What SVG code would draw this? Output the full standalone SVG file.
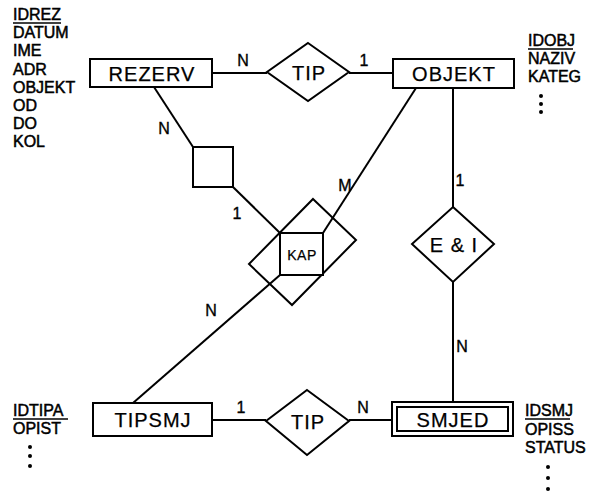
<svg xmlns="http://www.w3.org/2000/svg" width="605" height="500" viewBox="0 0 605 500">
<style>
.s{fill:none;stroke:#000;stroke-width:2}
.e{fill:#fff;stroke:#000;stroke-width:2}
.t{font-family:"Liberation Sans",Arial,sans-serif;font-size:20px;letter-spacing:1px;fill:#000;text-anchor:middle;dominant-baseline:central;stroke:#000;stroke-width:0.25}
.a{font-family:"Liberation Sans",Arial,sans-serif;font-size:16px;fill:#000;stroke:#000;stroke-width:0.5}
.l{font-family:"Liberation Sans",Arial,sans-serif;font-size:16px;fill:#000;text-anchor:middle;dominant-baseline:central;stroke:#000;stroke-width:0.35}
.u{stroke:#000;stroke-width:1.4}
.d{fill:#000}
</style>
<g id="connectors">
<line class="s" x1="212" y1="73" x2="267" y2="73"/>
<line class="s" x1="349" y1="73" x2="393" y2="73"/>
<line class="s" x1="154" y1="87" x2="193" y2="147"/>
<line class="s" x1="233" y1="187" x2="280" y2="233"/>
<line class="s" x1="416" y1="88" x2="323" y2="233"/>
<line class="s" x1="280" y1="275" x2="133" y2="403"/>
<line class="s" x1="453" y1="88" x2="453" y2="207"/>
<line class="s" x1="453" y1="282" x2="453" y2="402"/>
<line class="s" x1="212" y1="420" x2="266" y2="420"/>
<line class="s" x1="349" y1="420" x2="392" y2="420"/>
<text class="l" x="243" y="60">N</text>
<text class="l" x="364" y="60">1</text>
<text class="l" x="164" y="128">N</text>
<text class="l" x="237" y="213">1</text>
<text class="l" x="345" y="185">M</text>
<text class="l" x="211" y="310">N</text>
<text class="l" x="460" y="180">1</text>
<text class="l" x="462" y="346">N</text>
<text class="l" x="241" y="407">1</text>
<text class="l" x="363" y="407">N</text>
</g>
<g id="REZERV">
<rect class="e" x="90" y="59" width="122" height="28"/>
<text class="t" x="152" y="74">REZERV</text>
</g>
<g id="TIP1">
<polygon class="e" points="308,43 349,72 308,101 267,72"/>
<text class="t" x="309" y="73">TIP</text>
</g>
<g id="OBJEKT">
<rect class="e" x="393" y="59" width="121" height="29"/>
<text class="t" x="454" y="74">OBJEKT</text>
</g>
<g id="WEAK">
<rect class="e" x="193" y="147" width="40" height="40"/>
</g>
<g id="KAP">
<polygon class="s" points="313,199 356,240 292,305 249,264"/>
<rect class="e" x="280" y="233" width="43" height="42"/>
<text class="t" x="302" y="254.5" style="font-size:14px;letter-spacing:0.5px">KAP</text>
</g>
<g id="EI">
<polygon class="e" points="453,207 494,244 453,282 412,244"/>
<text class="t" x="454" y="245">E &amp; I</text>
</g>
<g id="TIPSMJ">
<rect class="e" x="93" y="403" width="119" height="33"/>
<text class="t" x="153" y="420">TIPSMJ</text>
</g>
<g id="TIP2">
<polygon class="e" points="307,390 349,421 307,455 266,421"/>
<text class="t" x="308" y="422">TIP</text>
</g>
<g id="SMJED">
<rect class="e" x="392" y="402" width="121" height="34"/>
<rect class="s" x="397" y="407" width="111" height="24"/>
<text class="t" x="453" y="420">SMJED</text>
</g>
<g id="attrs-rezerv">
<text class="a" x="13" y="20">IDREZ</text>
<line class="u" x1="13" y1="23" x2="61" y2="23"/>
<text class="a" x="13" y="38">DATUM</text>
<text class="a" x="13" y="56">IME</text>
<text class="a" x="13" y="75">ADR</text>
<text class="a" x="13" y="93">OBJEKT</text>
<text class="a" x="13" y="111">OD</text>
<text class="a" x="13" y="129">DO</text>
<text class="a" x="13" y="147">KOL</text>
</g>
<g id="attrs-objekt">
<text class="a" x="528" y="46">IDOBJ</text>
<line class="u" x1="528" y1="49" x2="573" y2="49"/>
<text class="a" x="528" y="64">NAZIV</text>
<text class="a" x="528" y="82">KATEG</text>
<circle class="d" cx="541" cy="96" r="2"/>
<circle class="d" cx="541" cy="104" r="2"/>
<circle class="d" cx="541" cy="112" r="2"/>
</g>
<g id="attrs-tipsmj">
<text class="a" x="13" y="416">IDTIPA</text>
<line class="u" x1="13" y1="419" x2="68" y2="419"/>
<text class="a" x="13" y="434">OPIST</text>
<circle class="d" cx="30" cy="447" r="2"/>
<circle class="d" cx="30" cy="456" r="2"/>
<circle class="d" cx="30" cy="466" r="2"/>
</g>
<g id="attrs-smjed">
<text class="a" x="525" y="416">IDSMJ</text>
<line class="u" x1="525" y1="419" x2="570" y2="419"/>
<text class="a" x="525" y="435">OPISS</text>
<text class="a" x="525" y="453">STATUS</text>
<circle class="d" cx="548" cy="467" r="2"/>
<circle class="d" cx="548" cy="478" r="2"/>
<circle class="d" cx="548" cy="489" r="2"/>
</g>
</svg>
